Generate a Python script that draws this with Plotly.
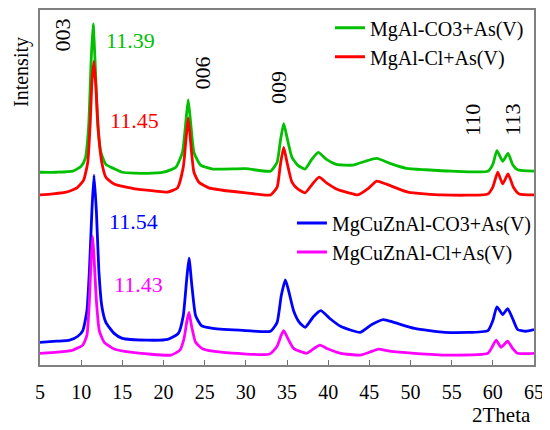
import plotly.graph_objects as go

# 2theta (deg) / intensity (a.u.)
mgal_co3_x = [5.0, 7.0, 9.0, 10.0, 10.5, 10.9, 11.2, 11.45, 11.7, 12.0, 12.4, 13.0, 14.0, 15.0, 18.0, 20.0,
              21.5, 22.3, 22.7, 23.0, 23.3, 23.7, 24.5, 26.0, 30.0, 33.0, 33.8, 34.2, 34.6, 35.0, 35.6, 36.3,
              37.2, 38.0, 38.8, 39.8, 41.0, 43.0, 44.5, 45.9, 47.5, 49.5, 51.8, 55.0, 59.4, 60.0, 60.5, 61.2,
              61.85, 62.4, 63.0, 65.0]
mgal_co3_y = [54.3, 54.3, 54.6, 56.0, 58.2, 66.9, 85.0, 96.1, 85.0, 68.2, 59.9, 56.5, 55.3, 54.3, 54.0, 54.3,
              55.7, 59.9, 68.2, 74.7, 68.2, 59.9, 56.3, 55.2, 55.3, 54.6, 57.1, 63.2, 68.0, 64.1, 58.5, 56.3,
              55.2, 57.9, 59.9, 57.9, 56.5, 56.3, 57.4, 58.2, 56.8, 55.4, 55.0, 54.6, 54.6, 56.5, 60.4, 57.4,
              59.6, 56.5, 55.0, 54.6]

mgal_cl_x = [5.0, 6.5, 8.2, 9.5, 10.3, 10.8, 11.1, 11.3, 11.55, 11.8, 12.1, 12.5, 13.0, 14.0, 16.5, 19.0,
             20.5, 21.7, 22.4, 22.75, 23.0, 23.3, 23.7, 24.3, 25.5, 27.0, 30.0, 33.0, 33.8, 34.2, 34.6, 35.0,
             35.6, 36.3, 37.2, 38.1, 38.9, 39.8, 41.0, 42.5, 43.6, 44.8, 45.9, 47.0, 49.7, 53.8, 59.4, 60.0,
             60.6, 61.2, 61.85, 62.5, 63.2, 65.0]
mgal_cl_y = [47.9, 48.2, 48.7, 49.9, 52.1, 57.1, 68.2, 79.4, 85.5, 78.0, 65.5, 57.1, 52.9, 51.0, 49.6, 49.0,
             48.7, 49.9, 55.7, 64.1, 69.6, 62.7, 54.3, 51.5, 49.9, 49.3, 48.5, 47.9, 50.1, 56.5, 61.3, 57.1,
             51.5, 49.6, 48.5, 51.0, 52.9, 51.3, 49.6, 48.5, 47.9, 49.6, 51.8, 51.0, 48.7, 47.9, 48.2, 50.1,
             54.3, 51.0, 53.8, 50.1, 48.2, 47.9]

mgcuznal_co3_x = [5.0, 7.0, 8.6, 9.6, 10.2, 10.7, 11.0, 11.3, 11.56, 11.85, 12.15, 12.5, 13.0, 14.0, 15.0,
                  18.0, 20.5, 21.8, 22.4, 22.8, 23.1, 23.45, 23.9, 24.6, 26.0, 30.0, 33.0, 33.8, 34.3, 34.8,
                  35.2, 35.8, 36.5, 37.2, 38.2, 39.1, 40.2, 41.5, 43.9, 45.3, 46.7, 48.0, 50.5, 54.2, 59.4,
                  60.0, 60.5, 61.2, 61.8, 62.4, 63.0, 64.0, 65.0]
mgcuznal_co3_y = [6.4, 6.7, 7.0, 8.1, 9.7, 15.3, 26.5, 43.2, 53.5, 43.2, 26.5, 16.7, 12.0, 8.9, 7.5,
                  7.0, 7.2, 8.9, 13.9, 23.7, 30.1, 22.3, 13.9, 11.1, 10.3, 9.7, 9.5, 12.0, 19.5, 24.0,
                  20.9, 15.3, 12.0, 10.6, 13.6, 15.3, 13.1, 10.9, 9.2, 11.4, 12.8, 12.0, 10.3, 9.2, 9.7,
                  12.5, 16.4, 14.2, 15.9, 13.1, 10.0, 9.5, 10.0]

mgcuznal_cl_x = [5.0, 7.1, 9.0, 10.2, 10.7, 11.0, 11.2, 11.4, 11.6, 11.85, 12.2, 12.8, 14.0, 16.0, 20.9,
                 22.0, 22.5, 22.85, 23.1, 23.4, 23.9, 24.8, 27.0, 32.9, 33.8, 34.3, 34.6, 35.1, 35.8, 37.4,
                 38.3, 39.0, 40.0, 41.5, 43.9, 45.0, 46.1, 47.5, 50.5, 54.5, 59.4, 59.9, 60.4, 61.0, 61.8,
                 62.4, 63.0, 65.0]
mgcuznal_cl_y = [3.3, 3.6, 4.2, 5.6, 8.4, 18.1, 29.2, 36.2, 28.7, 18.1, 9.7, 6.4, 4.5, 3.6, 2.8,
                 4.2, 7.5, 12.5, 14.8, 11.1, 6.4, 4.5, 3.6, 3.1, 5.3, 8.4, 9.7, 7.5, 4.7, 3.3,
                 4.7, 5.6, 4.5, 3.3, 2.8, 3.6, 4.5, 3.9, 3.3, 2.8, 3.3, 5.0, 7.0, 5.0, 6.7,
                 4.7, 3.3, 3.3]

x_ticks = [5, 10, 15, 20, 25, 30, 35, 40, 45, 50, 55, 60, 65]

# peak labels: text, x, y, colour, rotated
peak_labels = [
    ("003", 7.8, 92.8, "black", True),
    ("006", 24.7, 82.2, "black", True),
    ("009", 33.9, 78.3, "black", True),
    ("110", 57.5, 69.1, "black", True),
    ("113", 62.45, 69.1, "black", True),
    ("11.39", 16.05, 91.4, "#00C000", False),
    ("11.45", 16.5, 68.8, "#FF0000", False),
    ("11.54", 16.3, 40.4, "#0000FF", False),
    ("11.43", 17.0, 22.6, "#FF00FF", False),
]

FONT = "Liberation Serif"

fig = go.Figure()
series = [
    (mgal_co3_x, mgal_co3_y, "MgAl-CO3+As(V)", "#00C000", "legend"),
    (mgal_cl_x, mgal_cl_y, "MgAl-Cl+As(V)", "#FF0000", "legend"),
    (mgcuznal_co3_x, mgcuznal_co3_y, "MgCuZnAl-CO3+As(V)", "#0000FF", "legend2"),
    (mgcuznal_cl_x, mgcuznal_cl_y, "MgCuZnAl-Cl+As(V)", "#FF00FF", "legend2"),
]
for xs, ys, name, col, leg in series:
    fig.add_trace(go.Scatter(x=xs, y=ys, name=name, mode="lines", legend=leg,
                             line=dict(color=col, width=2.8, shape="spline", smoothing=0.5)))

for txt, x, y, col, rot in peak_labels:
    fig.add_annotation(x=x, y=y, text=txt, showarrow=False, textangle=-90 if rot else 0,
                       font=dict(family=FONT, size=22, color=col))

fig.add_annotation(xref="paper", yref="paper", x=-0.036, y=0.826, text="Intensity", showarrow=False,
                   xanchor="center", yanchor="middle", textangle=-90,
                   font=dict(family=FONT, size=20, color="black"))
fig.add_annotation(xref="paper", yref="paper", x=0.935, y=-0.14, text="2Theta", showarrow=False,
                   xanchor="center", yanchor="middle",
                   font=dict(family=FONT, size=21, color="black"))

leg_style = dict(font=dict(family=FONT, size=20, color="black"), bgcolor="rgba(0,0,0,0)",
                 xanchor="left", yanchor="top", tracegroupgap=0)
# page body adds an 8px offset, so the figure is a bit smaller than the window
fig.update_layout(
    width=542, height=422,
    margin=dict(l=32, r=16, t=0, b=65),
    font=dict(family=FONT),
    paper_bgcolor="white", plot_bgcolor="white",
    legend=dict(x=0.587, y=1.005, **leg_style),
    legend2=dict(x=0.51, y=0.455, **leg_style),
    xaxis=dict(range=[5, 65], tickvals=x_ticks, ticks="inside", ticklen=5, tickcolor="#707070",
               showline=True, linecolor="#808080", linewidth=1.5, mirror=True, showgrid=False,
               zeroline=False, ticklabelstandoff=8,
               tickfont=dict(family=FONT, size=20, color="black")),
    yaxis=dict(range=[0, 100], showticklabels=False, ticks="", showline=True, linecolor="#808080",
               linewidth=1.5, mirror=True, showgrid=False, zeroline=False),
)

fig.write_html("out.html")
